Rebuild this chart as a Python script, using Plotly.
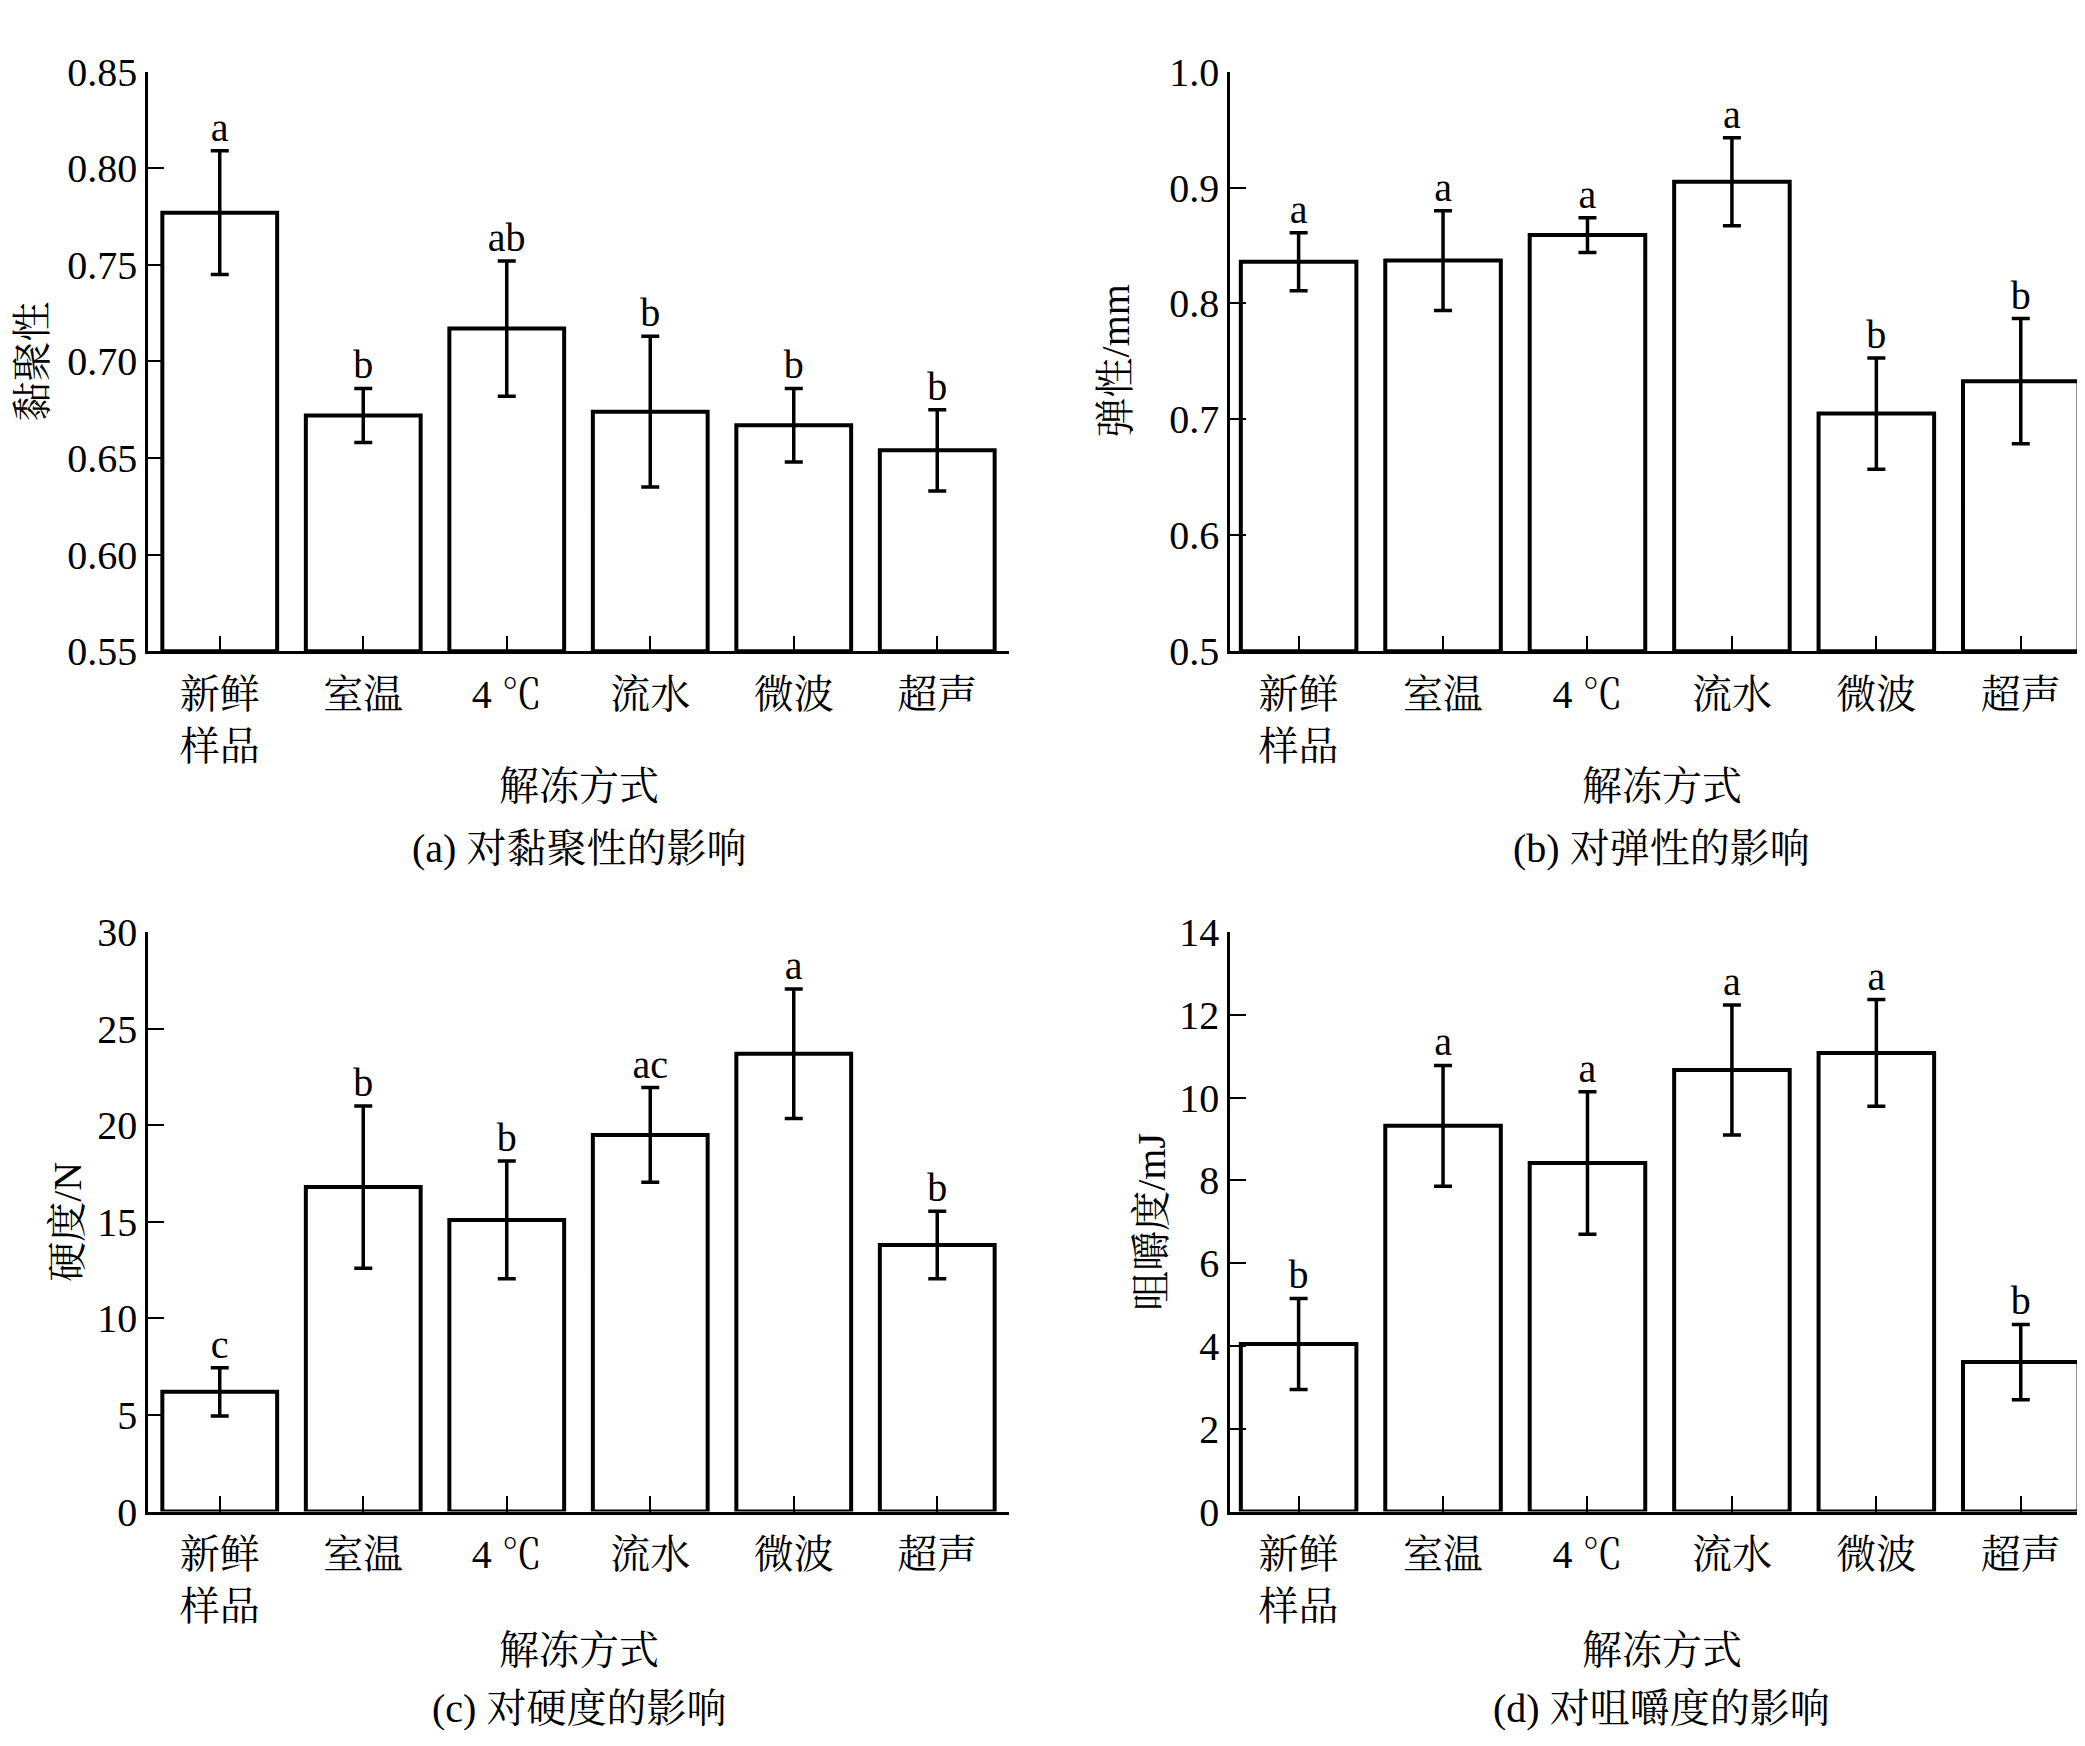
import plotly.graph_objects as go
from plotly.subplots import make_subplots

# categories (thawing methods)
methods = ['新鲜<br>样品', '室温', '4 ℃', '流水', '微波', '超声']

# (a) cohesiveness
cohesion = [0.777, 0.672, 0.717, 0.674, 0.667, 0.654]
cohesion_err = [0.032, 0.014, 0.035, 0.039, 0.019, 0.021]
cohesion_sig = ['a', 'b', 'ab', 'b', 'b', 'b']

# (b) springiness, mm
spring = [0.836, 0.837, 0.859, 0.905, 0.705, 0.733]
spring_err = [0.025, 0.043, 0.015, 0.038, 0.048, 0.054]
spring_sig = ['a', 'a', 'a', 'a', 'b', 'b']

# (c) hardness, N
hardness = [6.2, 16.8, 15.1, 19.5, 23.7, 13.8]
hardness_err = [1.25, 4.2, 3.05, 2.45, 3.35, 1.75]
hardness_sig = ['c', 'b', 'b', 'ac', 'a', 'b']

# (d) chewiness, mJ
chew = [4.05, 9.32, 8.42, 10.67, 11.08, 3.61]
chew_err = [1.1, 1.46, 1.72, 1.57, 1.29, 0.91]
chew_sig = ['b', 'a', 'a', 'a', 'a', 'b']

FONT = 'Liberation Serif, Times New Roman, Noto Serif CJK SC, Noto Sans CJK SC'
W, H = 2085, 1746

panels = [
    (cohesion, cohesion_err, cohesion_sig, 1, 1, [0.55, 0.85], 0.05, '.2f', '黏聚性', '(a) 对黏聚性的影响'),
    (spring, spring_err, spring_sig, 1, 2, [0.5, 1.0], 0.1, '.1f', '弹性/mm', '(b) 对弹性的影响'),
    (hardness, hardness_err, hardness_sig, 2, 1, [0, 30], 5, 'd', '硬度/N', '(c) 对硬度的影响'),
    (chew, chew_err, chew_sig, 2, 2, [0, 14], 2, 'd', '咀嚼度/mJ', '(d) 对咀嚼度的影响'),
]

fig = make_subplots(rows=2, cols=2)

# pixel layout of the panels
xdom = {1: [140 / W, 1001 / W], 2: [1222 / W, 1.0]}
xrng = {1: [-0.5, 5.5], 2: [-0.475, 5.5]}
ydom = {1: [1 - 637.7 / H, 1 - 42.7 / H], 2: [1 - 1520.7 / H, 1 - 926 / H]}
ytitle_x = {1: 24 / W, 2: 1107 / W}
ytitle_x2 = {1: 60 / W, 2: 1144 / W}
sub_y = {1: (777, 840), 2: (1663, 1723)}

xs = list(range(len(methods)))
for vals, errs, sig, r, c, yr, dt, fmt, ytitle, caption in panels:
    fig.add_trace(go.Bar(
        x=xs, y=[v - yr[0] for v in vals], base=yr[0], width=0.8,
        marker=dict(color='white', line=dict(color='black', width=4)),
        error_y=dict(type='data', array=errs, color='black', thickness=3.5, width=9),
        showlegend=False), row=r, col=c)
    fig.add_trace(go.Scatter(
        x=xs, y=[v + e for v, e in zip(vals, errs)], text=sig, mode='text',
        textposition='top center', textfont=dict(size=40, color='black', family=FONT),
        showlegend=False, cliponaxis=False), row=r, col=c)
    fig.update_xaxes(row=r, col=c, domain=xdom[c], range=xrng[c],
                     tickvals=xs, ticktext=methods, showline=True, linecolor='black',
                     linewidth=2.5, ticks='inside', ticklen=16, tickwidth=2,
                     tickcolor='black', showgrid=False, zeroline=False,
                     ticklabelstandoff=6,
                     tickfont=dict(size=40, family=FONT, color='black'))
    fig.update_yaxes(row=r, col=c, domain=ydom[r], range=yr, dtick=dt, tick0=yr[0],
                     tickformat=fmt, showline=True, linecolor='black', linewidth=2.5,
                     ticks='inside', ticklen=16, tickwidth=2, tickcolor='black',
                     showgrid=False, zeroline=False,
                     tickfont=dict(size=40, family=FONT, color='black'))
    xmid = (xdom[c][0] + xdom[c][1]) / 2
    t1, t2 = sub_y[r]
    fig.add_annotation(text='解冻方式', x=xmid, y=1 - t1 / H, xref='paper', yref='paper',
                       xanchor='center', yanchor='middle', showarrow=False,
                       font=dict(size=40, family=FONT, color='black'))
    fig.add_annotation(text=caption, x=xmid, y=1 - t2 / H, xref='paper', yref='paper',
                       xanchor='center', yanchor='middle', showarrow=False,
                       font=dict(size=40, family=FONT, color='black'))
    tx = ytitle_x[c] if r == 1 else ytitle_x2[c]
    fig.add_annotation(text=ytitle, x=tx, y=(ydom[r][0] + ydom[r][1]) / 2,
                       xref='paper', yref='paper', textangle=-90, showarrow=False,
                       xanchor='center', yanchor='middle',
                       font=dict(size=40, family=FONT, color='black'))

fig.update_layout(width=W, height=H, margin=dict(l=0, r=0, t=0, b=0),
                  plot_bgcolor='white', paper_bgcolor='white')

fig.write_html('out.html')
